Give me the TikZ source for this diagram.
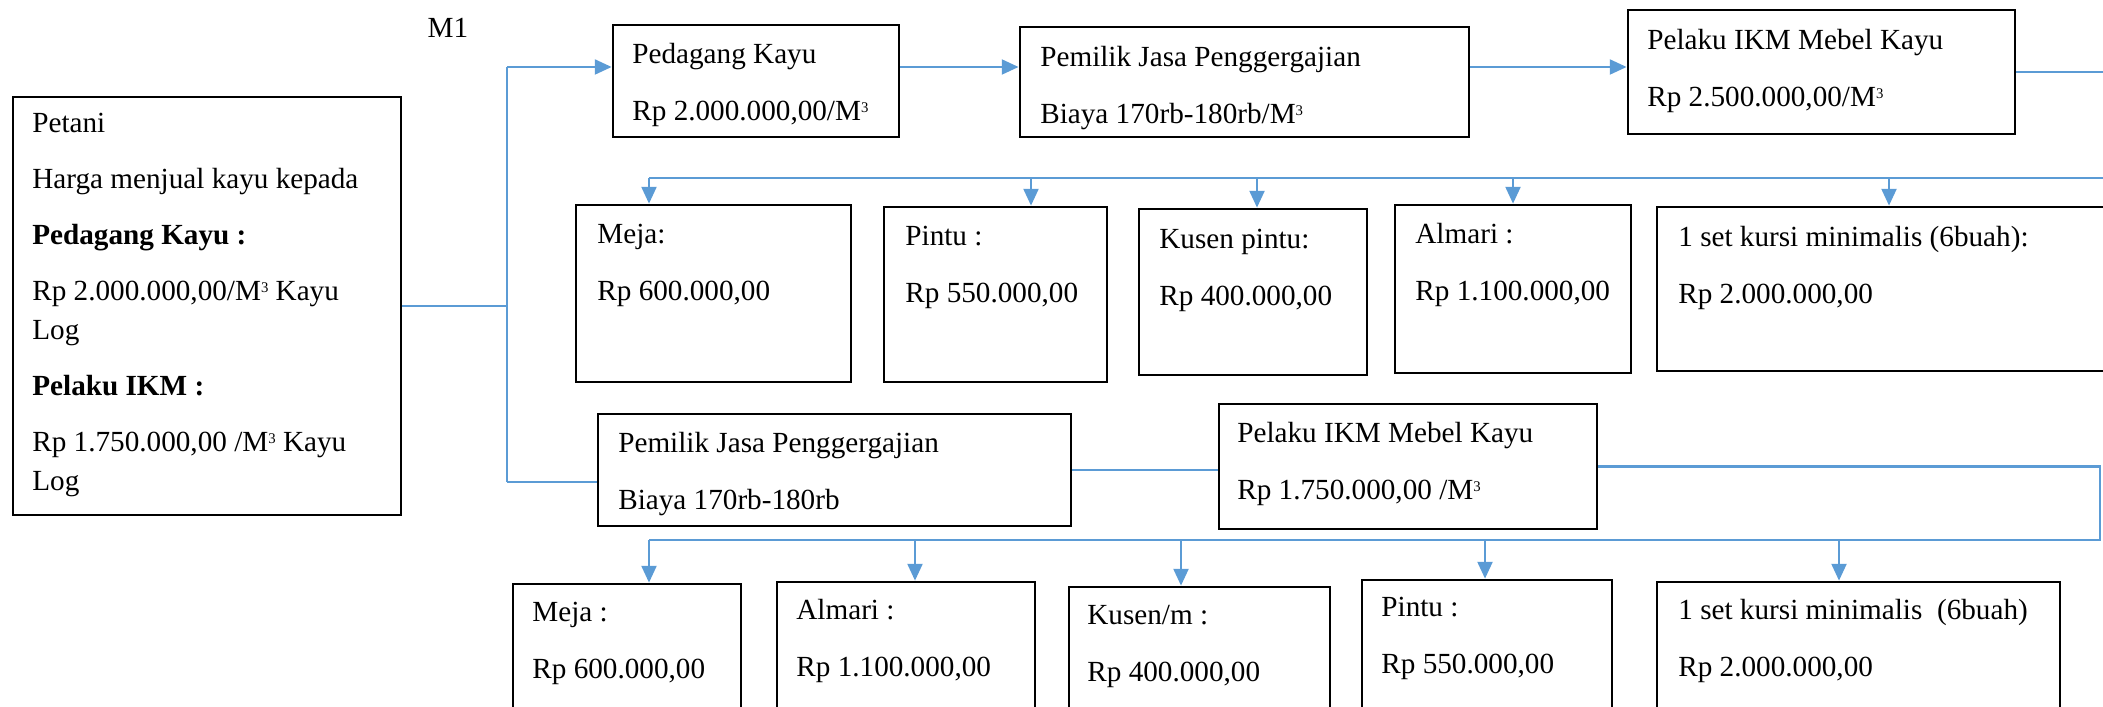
\documentclass[tikz,border=0pt]{standalone}
\usepackage{fontspec}
\setmainfont{Liberation Serif}
\usepackage{tikz}
\usetikzlibrary{arrows.meta,calc,positioning}
\definecolor{linkblue}{RGB}{91,155,213}
\tikzset{
  box/.style={draw=black, line width=0.7pt, inner sep=0pt},
  txt/.style={anchor=north west, align=left, inner sep=0pt},
  link/.style={draw=linkblue, line width=0.6pt},
  arr/.style={draw=linkblue, line width=0.8pt, -{Triangle[length=4.8pt,width=4.2pt]}},
}
\newcommand{\mkubik}{M\raisebox{2.3pt}{\fontsize{4.2}{5}\selectfont 3}}

\begin{document}
\begin{tikzpicture}[x=0.01cm, y=-0.01cm, every node/.style={font=\fontsize{8.3}{11.1}\selectfont}]
\useasboundingbox (0,0) rectangle (2103,707);
\clip (0,0) rectangle (2103,707);
% Petani (left box)
\node[box, minimum width=3.88cm, minimum height=4.18cm] (petani) at (207,306) {};
\node[txt] (petanitxt) at ($(petani.north west)+(20,17)$)
  {Petani\\[4.8pt]Harga menjual kayu kepada\\[4.8pt]\textbf{Pedagang Kayu :}\\[4.8pt]%
   Rp 2.000.000,00/\mkubik{} Kayu\\Log\\[4.8pt]\textbf{Pelaku IKM :}\\[4.8pt]%
   Rp 1.750.000,00 /\mkubik{} Kayu\\Log};
\node (m1) at (448,28) {M1};
% Top chain
\node[box, minimum width=2.86cm, minimum height=1.12cm] (pedagang) at (756,81) {};
\node[txt] at ($(pedagang.north west)+(20,19)$) {Pedagang Kayu\\[5.1pt]Rp 2.000.000,00/\mkubik};
\node[box, minimum width=4.49cm, minimum height=1.10cm] (pemilik) at (1244.5,82) {};
\node[txt] at ($(pemilik.north west)+(21,20)$) {Pemilik Jasa Penggergajian\\[5.1pt]Biaya 170rb-180rb/\mkubik};
\node[box, minimum width=3.87cm, minimum height=1.24cm] (pelaku) at (1821.5,72) {};
\node[txt] at ($(pelaku.north west)+(20,20)$) {Pelaku IKM Mebel Kayu\\[5.1pt]Rp 2.500.000,00/\mkubik};
% Products, first row
\node[box, minimum width=2.75cm, minimum height=1.77cm] (meja1) at (713.5,293.5) {};
\node[txt] at ($(meja1.north west)+(22,20)$) {Meja:\\[5.1pt]Rp 600.000,00};
\node[box, minimum width=2.23cm, minimum height=1.75cm] (pintu1) at (995.5,294.5) {};
\node[txt] at ($(pintu1.north west)+(22,20)$) {Pintu :\\[5.1pt]Rp 550.000,00};
\node[box, minimum width=2.28cm, minimum height=1.66cm] (kusen1) at (1253,292) {};
\node[txt] at ($(kusen1.north west)+(21,21)$) {Kusen pintu:\\[5.1pt]Rp 400.000,00};
\node[box, minimum width=2.36cm, minimum height=1.68cm] (almari1) at (1513,289) {};
\node[txt] at ($(almari1.north west)+(21,19)$) {Almari :\\[5.1pt]Rp 1.100.000,00};
\node[box, minimum width=4.63cm, minimum height=1.64cm] (kursi1) at (1888.5,289) {};
\node[txt] at ($(kursi1.north west)+(22,20)$) {1 set kursi minimalis (6buah):\\[5.1pt]Rp 2.000.000,00};
% Second chain
\node[box, minimum width=4.73cm, minimum height=1.12cm] (pemilik2) at (834.5,470) {};
\node[txt] at ($(pemilik2.north west)+(21,19)$) {Pemilik Jasa Penggergajian\\[5.1pt]Biaya 170rb-180rb};
\node[box, minimum width=3.78cm, minimum height=1.25cm] (pelaku2) at (1408,466.5) {};
\node[txt] at ($(pelaku2.north west)+(19,19)$) {Pelaku IKM Mebel Kayu\\[5.1pt]Rp 1.750.000,00 /\mkubik};
% Products, second row
\node[box, minimum width=2.28cm, minimum height=1.76cm] (meja2) at (627,672) {};
\node[txt] at ($(meja2.north west)+(20,19)$) {Meja :\\[5.1pt]Rp 600.000,00};
\node[box, minimum width=2.58cm, minimum height=1.78cm] (almari2) at (906,671) {};
\node[txt] at ($(almari2.north west)+(20,18)$) {Almari :\\[5.1pt]Rp 1.100.000,00};
\node[box, minimum width=2.61cm, minimum height=1.73cm] (kusen2) at (1199.5,673.5) {};
\node[txt] at ($(kusen2.north west)+(19,19)$) {Kusen/m :\\[5.1pt]Rp 400.000,00};
\node[box, minimum width=2.50cm, minimum height=1.80cm] (pintu2) at (1487,670) {};
\node[txt] at ($(pintu2.north west)+(20,18)$) {Pintu :\\[5.1pt]Rp 550.000,00};
\node[box, minimum width=4.03cm, minimum height=1.78cm] (kursi2) at (1858.5,671) {};
\node[txt] at ($(kursi2.north west)+(22,18)$) {1 set kursi minimalis~ (6buah)\\[5.1pt]Rp 2.000.000,00};
% Trunk from Petani
\coordinate (trunktop) at (507,67);
\coordinate (trunkbot) at (507,482);
\draw[link] (petani.east) -- (petani.east -| trunktop);
\draw[link] (trunktop) -- (trunkbot);
\draw[arr] (trunktop) -- (trunktop -| pedagang.west);
\draw[link] (trunkbot) -- (trunkbot -| pemilik2.west);
% Top chain arrows
\coordinate (row1) at (0,67);
\draw[arr] (pedagang.east |- row1) -- (pemilik.west |- row1);
\draw[arr] (pemilik.east |- row1) -- (pelaku.west |- row1);
% Branch to first product row
\coordinate (brA) at (649,178);
\coordinate (edgeA) at (2106,178);
\draw[link] (pelaku.east) -| (edgeA) -- (brA);
\foreach \b/\x in {meja1/649, pintu1/1031, kusen1/1257, almari1/1513, kursi1/1889}{
  \coordinate (t) at (\x,178);
  \draw[arr] (t) -- (t |- \b.north);
}
% Second chain and branch
\draw[link] (pemilik2.east) -- (pemilik2.east -| pelaku2.west);
\coordinate (brB) at (649,540);
\coordinate (edgeB) at (2100,540);
\draw[link] (pelaku2.east) -| (edgeB) -- (brB);
\foreach \b/\x in {meja2/649, almari2/915, kusen2/1181, pintu2/1485, kursi2/1839}{
  \coordinate (t) at (\x,540);
  \draw[arr] (t) -- (t |- \b.north);
}
\end{tikzpicture}
\end{document}
